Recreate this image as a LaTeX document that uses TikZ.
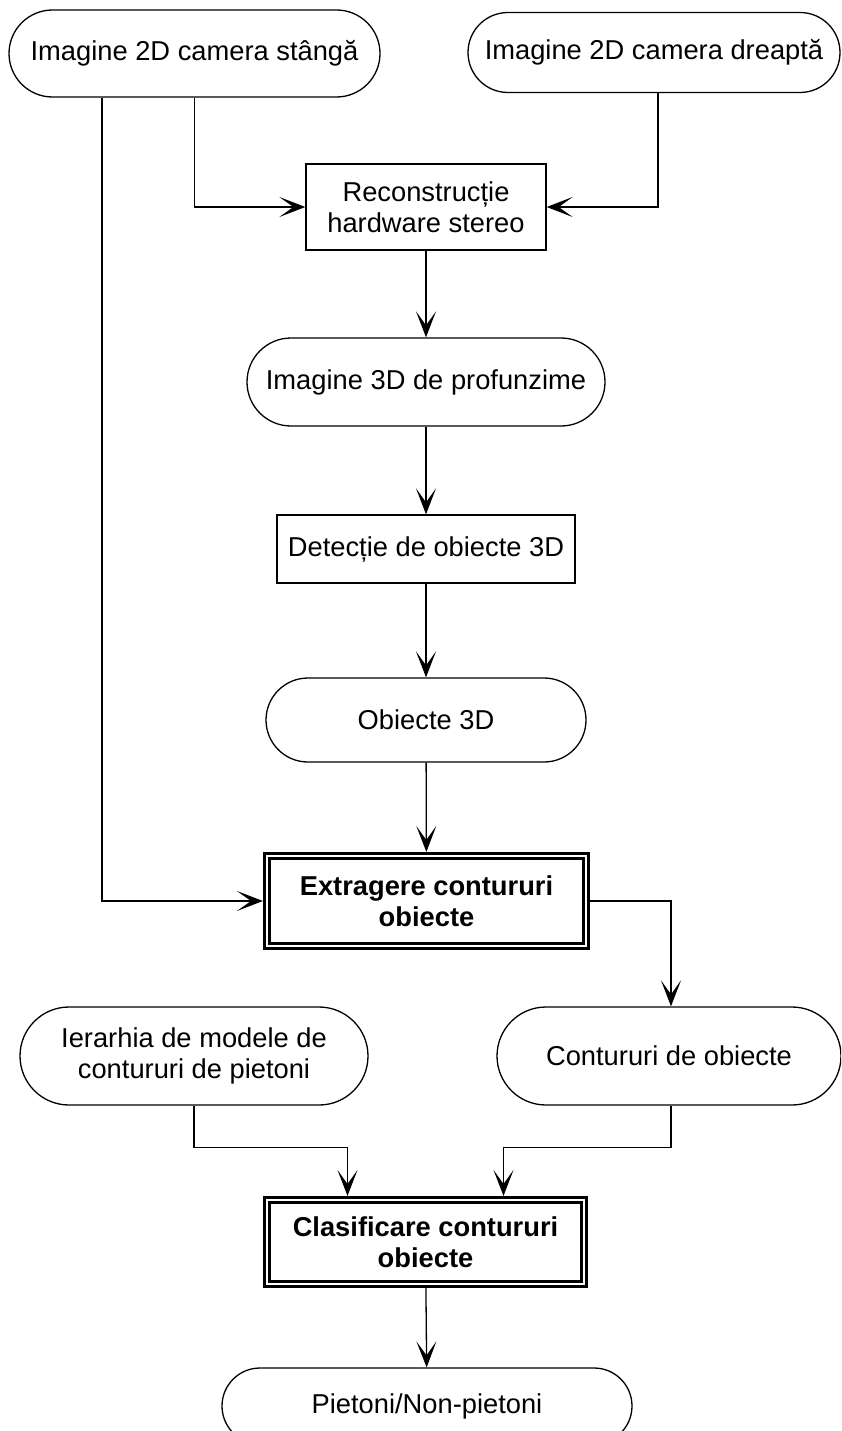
\documentclass[tikz,border=0pt]{standalone}
\usepackage{fontspec}
\setmainfont{Liberation Sans}
\usetikzlibrary{arrows.meta}
\begin{document}
\begin{tikzpicture}[x=1pt,y=-1pt,
  every node/.style={font=\fontsize{27.3}{31.5}\selectfont, align=center, inner sep=0pt},
  term/.style={draw, line width=1.3pt},
  proc/.style={draw, line width=1.3pt, rectangle},
  keyproc/.style={draw, rectangle, line width=2.7pt, double, double distance=2.7pt,
    outer sep=4.05pt, font=\fontsize{27.3}{31.5}\selectfont\bfseries},
  arr/.style={line width=1.3pt, -{Stealth[length=26pt, width=20pt, inset=14pt]}},
  link/.style={line width=1.3pt}
]
\useasboundingbox (0,0) rectangle (841,1431);
\clip (0,0) rectangle (841,1431);

% inputs
\node[term, minimum width=371pt, minimum height=87pt, rounded corners=43.5pt]
  (left) at (194.5,53.5) {Imagine 2D camera stângă};
\node[term, minimum width=372pt, minimum height=80pt, rounded corners=40pt]
  (right) at (654,52.5) {Imagine 2D camera dreaptă};

% stereo chain
\node[proc, minimum width=240pt, minimum height=86pt]
  (recon) at (426,207) {Reconstrucție\\hardware stereo};
\node[term, minimum width=358pt, minimum height=88pt, rounded corners=44pt]
  (depth) at (426,382) {Imagine 3D de profunzime};
\node[proc, minimum width=298pt, minimum height=68pt]
  (detect) at (426,549) {Detecție de obiecte 3D};
\node[term, minimum width=320pt, minimum height=84pt, rounded corners=42pt]
  (obj) at (426,720) {Obiecte 3D};
\node[keyproc, minimum width=319pt, minimum height=90pt]
  (extract) at (426.5,901) {Extragere contururi\\obiecte};

% contour classification
\node[term, minimum width=348pt, minimum height=98pt, rounded corners=49pt]
  (models) at (194,1056) {Ierarhia de modele de\\contururi de pietoni};
\node[term, minimum width=344pt, minimum height=98pt, rounded corners=49pt]
  (contours) at (669,1056) {Contururi de obiecte};
\node[keyproc, minimum width=317pt, minimum height=84pt]
  (classify) at (425.5,1242) {Clasificare contururi\\obiecte};
\node[term, minimum width=410pt, minimum height=76pt, rounded corners=38pt]
  (result) at (427,1406) {Pietoni/Non-pietoni};

% connectors
\draw[arr] ([xshift=-92.5pt]left.south) |- (extract.west);
\draw[arr] (left.south) |- (recon.west);
\draw[arr] ([xshift=4pt]right.south) |- (recon.east);
\draw[arr] (recon) -- (depth);
\draw[arr] (depth) -- (detect);
\draw[arr] (detect) -- (obj);
\draw[arr] (obj) -- (extract);
\draw[arr] (extract.east) -| ([xshift=2pt]contours.north);
\draw[arr] (models.south) -- ++(0,42) -| ([xshift=-78pt]classify.north);
\draw[arr] ([xshift=2pt]contours.south) -- ++(0,42) -| ([xshift=78pt]classify.north);
\draw[arr] (classify) -- (result);
\end{tikzpicture}
\end{document}
